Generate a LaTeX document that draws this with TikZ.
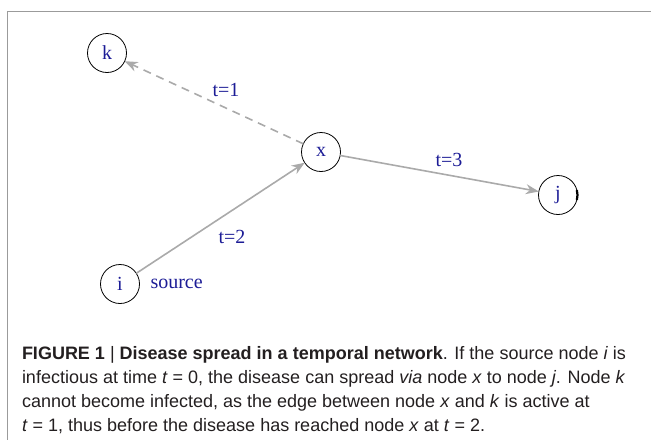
\documentclass[tikz,border=0pt]{standalone}
\usepackage{fontspec}
\setmainfont{Liberation Serif}
\setsansfont{Liberation Sans}
\usetikzlibrary{positioning,arrows.meta}
\definecolor{edgecolor}{RGB}{170,170,170}
\definecolor{labelcolor}{RGB}{28,28,150}
\definecolor{framecolor}{RGB}{155,155,155}
\definecolor{captioncolor}{RGB}{35,31,32}

\begin{document}
\begin{tikzpicture}[
	x=1pt, y=-1pt,
	vertex/.style={circle, draw, line width=0.8pt, minimum size=39pt,
		inner sep=0pt, font=\fontsize{20}{24}\selectfont, text=labelcolor},
	edge/.style={draw=edgecolor, line width=1.6pt,
		-{Stealth[length=13pt, width=10pt]}},
	elabel/.style={font=\fontsize{20}{24}\selectfont, text=labelcolor,
		inner sep=0pt},
	every node/.style={outer sep=0pt},
]
\useasboundingbox (0,0) rectangle (651,440);
% frame round the figure
\draw[framecolor, line width=1.5pt] (651,11.5) -- (7.5,11.5) -- (7.5,440);

% the temporal network
\node[vertex] (k) at (107,53) {k};
\node[vertex] (x) at (321,152) {x};
\node[vertex] (j) at (558,195) {j};
\node[vertex] (i) at (120,284) {i};
\node[elabel, right=11pt of i] (src) {source};
\draw[line width=2.2pt] (j.15) arc[start angle=-15, end angle=15, radius=19.5];

\draw[edge, dash pattern=on 8pt off 6pt] (x) -- (k);
\draw[edge] (i) -- (x);
\draw[edge] (x) -- (j);

\node[elabel] (tone) at (226,90) {t=1};
\node[elabel] (ttwo) at (232,237) {t=2};
\node[elabel] (tthree) at (449,160) {t=3};

% caption
\node[anchor=north west, align=left, inner sep=0pt, text=captioncolor,
	font=\sffamily\fontsize{18}{24}\selectfont] (caption) at (22,346) {%
	\textbf{FIGURE 1} | \textbf{Disease spread in a temporal network}. If the source node \textit{i} is\\
	infectious at time \textit{t} = 0, the disease can spread \textit{via} node \textit{x} to node \textit{j}. Node \textit{k}\\
	cannot become infected, as the edge between node \textit{x} and \textit{k} is active at\\
	\textit{t} = 1, thus before the disease has reached node \textit{x} at \textit{t} = 2.};
\end{tikzpicture}
\end{document}
